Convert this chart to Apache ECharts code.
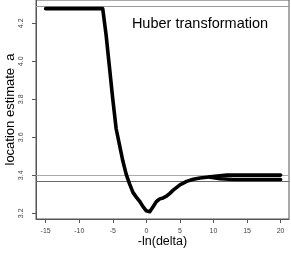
<!DOCTYPE html>
<html>
<head>
<meta charset="utf-8">
<script src="https://cdn.jsdelivr.net/npm/echarts@6/dist/echarts.min.js"></script>
<style>html,body{margin:0;padding:0;background:#fff}#c{width:291px;height:253px}</style>
</head>
<body>
<div id="c"></div>
<script>
// ---- data ----
var mainX = [-15, -6.5, -6.0, -5.5, -5.0, -4.5, -4.0, -3.5, -3.0, -2.5, -2.0, -1.5, -1.0, -0.5, 0, 0.5, 1.0, 1.5, 2.0, 2.5, 3.0, 3.5, 4.0, 5.0, 6.0, 7.0, 8.0, 9.0, 9.5];
var mainY = [4.277, 4.277, 4.14, 3.97, 3.80, 3.645, 3.56, 3.475, 3.405, 3.355, 3.31, 3.285, 3.263, 3.235, 3.213, 3.208, 3.235, 3.262, 3.276, 3.281, 3.29, 3.305, 3.322, 3.35, 3.368, 3.379, 3.386, 3.39, 3.392];
var upperTailX = [9.5, 12, 20];
var upperTailY = [3.392, 3.401, 3.401];
var lowerTailX = [9.5, 11, 13, 20];
var lowerTailY = [3.39, 3.382, 3.378, 3.378];
var refLevels = [4.29, 3.404, 3.374];
var refColors = ['#999999', '#aaaaaa', '#6a6a6a'];
var xTicks = [-15, -10, -5, 0, 5, 10, 15, 20];
var yTicks = [3.2, 3.4, 3.6, 3.8, 4.0, 4.2];
var xTitle = '-ln(delta)';
var yTitle = 'location estimate  a';
var panelText = 'Huber transformation';

function zip(xs, ys) { return xs.map(function (x, i) { return [x, ys[i]]; }); }

var font = 'Liberation Sans, Arial, sans-serif';
var chart = echarts.init(document.getElementById('c'), null, {renderer: 'canvas'});
var lineStyleMain = {color: '#000', width: 3.6, join: 'round', cap: 'round'};

var series = [
  {type: 'line', data: zip(mainX, mainY), symbol: 'none', lineStyle: lineStyleMain, silent: true, z: 5,
   markLine: {silent: true, symbol: 'none', label: {show: false},
     data: refLevels.map(function (v, i) { return {yAxis: v, lineStyle: {color: refColors[i], width: 1, type: 'solid'}}; })}},
  {type: 'line', data: zip(upperTailX, upperTailY), symbol: 'none', lineStyle: lineStyleMain, silent: true, z: 5},
  {type: 'line', data: zip(lowerTailX, lowerTailY), symbol: 'none', lineStyle: lineStyleMain, silent: true, z: 5}
];

chart.setOption({
  animation: false,
  backgroundColor: '#fff',
  grid: {left: 36, right: 2, top: 0, bottom: 34, containLabel: false, outerBoundsMode: 'none',
    show: true, borderColor: '#555', borderWidth: 1},
  xAxis: {
    type: 'value', min: -16.44, max: 21.25,
    splitLine: {show: false},
    axisLine: {show: true, onZero: false, lineStyle: {color: '#555', width: 1}},
    axisTick: {show: true, length: 4, lineStyle: {color: '#555'}, customValues: xTicks},
    axisLabel: {customValues: xTicks, fontSize: 7, color: '#444', fontFamily: font, margin: 9},
    name: xTitle, nameLocation: 'middle', nameGap: 16, nameMoveOverlap: false,
    nameTextStyle: {fontSize: 12.5, color: '#000', fontFamily: font}
  },
  yAxis: {
    type: 'value', min: 3.17, max: 4.3226,
    splitLine: {show: false},
    axisLine: {show: true, onZero: false, lineStyle: {color: '#555', width: 1}},
    axisTick: {show: true, length: 4, lineStyle: {color: '#555'}, customValues: yTicks},
    axisLabel: {customValues: yTicks, fontSize: 7, color: '#444', fontFamily: font, margin: 11, rotate: 90,
      formatter: function (v) { return v.toFixed(1); }},
    name: yTitle, nameLocation: 'middle', nameGap: 19, nameMoveOverlap: false,
    nameTextStyle: {fontSize: 13, color: '#000', fontFamily: font}
  },
  graphic: [{type: 'text', x: 200, y: 24, silent: true,
    style: {text: panelText, fontSize: 14.5, fontFamily: font, fill: '#000', align: 'center', verticalAlign: 'middle'}}],
  series: series
});
</script>
</body>
</html>
